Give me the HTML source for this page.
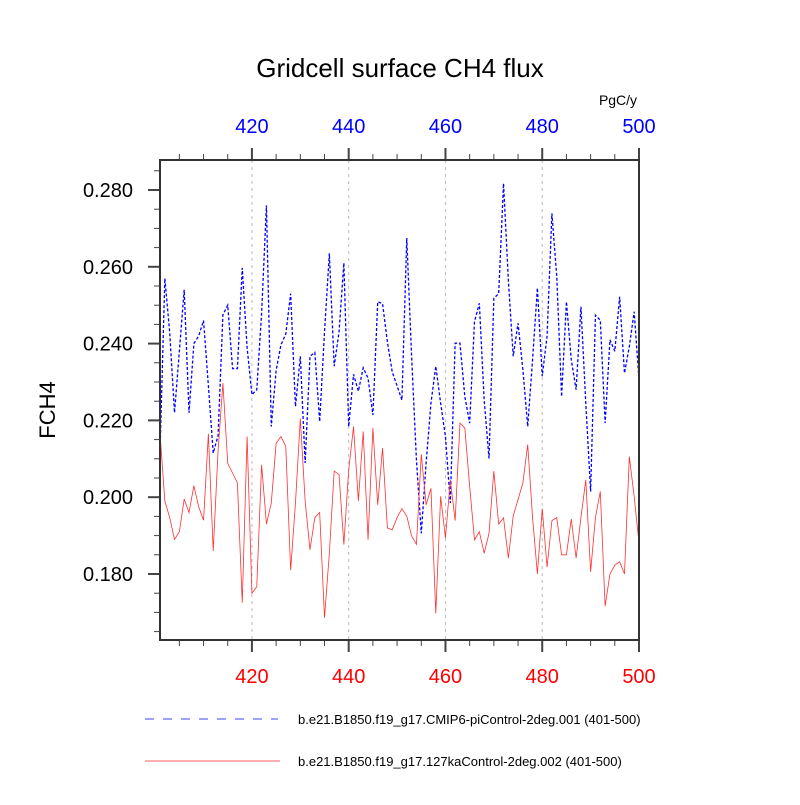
<!DOCTYPE html>
<html><head><meta charset="utf-8"><style>
body{margin:0;background:#fff}
svg text{font-family:"Liberation Sans",sans-serif}
</style></head><body>
<svg id="chart" width="800" height="800" viewBox="0 0 800 800">
<text x="400" y="77" text-anchor="middle" font-size="26">Gridcell surface CH4 flux</text>
<text x="618" y="105" text-anchor="middle" font-size="14">PgC/y</text>
<text x="55" y="410" text-anchor="middle" font-size="22" transform="rotate(-90 55 410)">FCH4</text>
<g id="grid"></g><g id="ticks"></g><g id="series"></g>
<rect x="160" y="160" width="479" height="480" fill="none" stroke="#333" stroke-width="2"/>
<g>
<line x1="145" y1="719" x2="278" y2="719" stroke="#4040ff" stroke-width="1" stroke-dasharray="9,9"/>
<text x="298" y="724" font-size="13">b.e21.B1850.f19_g17.CMIP6-piControl-2deg.001 (401-500)</text>
<line x1="145" y1="761" x2="280" y2="761" stroke="#ff6060" stroke-width="1"/>
<text x="298" y="766" font-size="13">b.e21.B1850.f19_g17.127kaControl-2deg.002 (401-500)</text>
</g>
</svg>
<script>
const years = Array.from({length:100},(_,i)=>401+i);
const blueValues = [0.2115,0.257,0.243,0.222,0.238,0.254,0.222,0.240,0.242,0.246,0.229,0.2115,0.216,0.2475,0.250,0.2335,0.2335,0.2597,0.239,0.2267,0.228,0.2479,0.276,0.2184,0.233,
0.2397,0.2425,0.253,0.2236,0.2367,0.2089,0.2367,0.2377,0.2197,0.243,0.2635,0.2341,0.243,0.261,0.2184,0.232,0.2276,0.2337,0.231,0.2214,0.2509,0.2504,0.2404,0.2326,0.229,
0.2253,0.2675,0.2367,0.2097,0.1906,0.2089,0.2245,0.2341,0.2245,0.2158,0.1985,0.2401,0.2401,0.2262,0.2193,0.2457,0.2505,0.2253,0.2101,0.2518,0.253,0.2817,0.2565,0.2367,0.2453,
0.2332,0.2184,0.2358,0.2545,0.2315,0.2419,0.2739,0.2575,0.2262,0.2509,0.2358,0.228,0.2496,0.2245,0.2015,0.2474,0.2461,0.2193,0.241,0.238,0.2522,0.2323,0.2392,0.2483,0.2306];
const redValues = [0.2167,0.199,0.1947,0.189,0.191,0.1995,0.196,0.203,0.1975,0.194,0.2165,0.186,0.212,0.2297,0.2088,0.2063,0.2037,0.1725,0.2158,0.175,0.1767,0.2084,0.193,0.1985,0.214,
0.2158,0.2132,0.181,0.1985,0.2205,0.199,0.1863,0.1947,0.196,0.1686,0.1854,0.2068,0.2059,0.1877,0.2071,0.2184,0.199,0.2171,0.1889,0.218,0.198,0.2128,0.192,0.1915,0.1947,
0.197,0.1951,0.1899,0.1877,0.2112,0.198,0.2023,0.1697,0.2002,0.1894,0.2045,0.1939,0.2193,0.218,0.2028,0.1889,0.191,0.1854,0.1906,0.2068,0.193,0.1946,0.1841,0.1951,0.1994,
0.2037,0.2137,0.1947,0.18,0.197,0.1818,0.1939,0.1947,0.185,0.185,0.1943,0.1841,0.1947,0.2045,0.1806,0.1947,0.2015,0.1716,0.18,0.1823,0.1832,0.18,0.2106,0.2002,0.1881];
const xTicks = [420,440,460,480,500];
const yTicks = [0.180,0.200,0.220,0.240,0.260,0.280];
const NS='http://www.w3.org/2000/svg';
const X0=160,X1=639,Y0=640,Y1=160,XMIN=401,XMAX=500,YMIN=0.16281,YMAX=0.28781;
const xs=v=>X0+(v-XMIN)/(XMAX-XMIN)*(X1-X0);
const ys=v=>Y0-(v-YMIN)/(YMAX-YMIN)*(Y0-Y1);
function mk(tag,attrs,parent){const e=document.createElementNS(NS,tag);for(const k in attrs)e.setAttribute(k,attrs[k]);parent.appendChild(e);return e;}
const grid=document.getElementById('grid'),ticks=document.getElementById('ticks'),series=document.getElementById('series');
xTicks.forEach(t=>{
 if(t<XMAX){const g=mk('line',{x1:xs(t),x2:xs(t),y1:Y1,y2:Y0,stroke:'#bbb','stroke-width':1,'stroke-dasharray':'3,4'},grid);
 
 }
 const tb=mk('text',{x:xs(t),y:683,'text-anchor':'middle','font-size':20,fill:'#ff0000'},ticks);tb.textContent=t;
 
 
 const tt=mk('text',{x:xs(t),y:133,'text-anchor':'middle','font-size':20,fill:'#0000ff'},ticks);tt.textContent=t;
 
 
});
for(let y=405;y<=500;y+=5){const maj=y%20===0;const L=maj?12:6;
 mk('line',{x1:xs(y),x2:xs(y),y1:Y1,y2:Y1-L,stroke:'#444','stroke-width':maj?2:1},ticks);
 mk('line',{x1:xs(y),x2:xs(y),y1:Y0,y2:Y0+L,stroke:'#444','stroke-width':maj?2:1},ticks);}
for(let k=0;k<=25;k++){const v=0.160+k*0.005;if(v<YMIN-1e-9||v>YMAX)continue;const maj=(k%4===0);const L=maj?12:6;
 mk('line',{x1:X0,x2:X0-L,y1:ys(v),y2:ys(v),stroke:'#444','stroke-width':maj?2:1},ticks);}
yTicks.forEach(t=>{const e=mk('text',{x:133,y:ys(t)+7,'text-anchor':'end','font-size':20},ticks);e.textContent=t.toFixed(3);
 
 });
const pb=mk('polyline',{points:years.map((y,i)=>xs(y)+','+ys(blueValues[i])).join(' '),fill:'none',stroke:'#0000ff','stroke-width':1.3,'stroke-dasharray':'3,2'},series);


const pr=mk('polyline',{points:years.map((y,i)=>xs(y)+','+ys(redValues[i])).join(' '),fill:'none',stroke:'#ff3030','stroke-width':0.8},series);


</script>
</body></html>
